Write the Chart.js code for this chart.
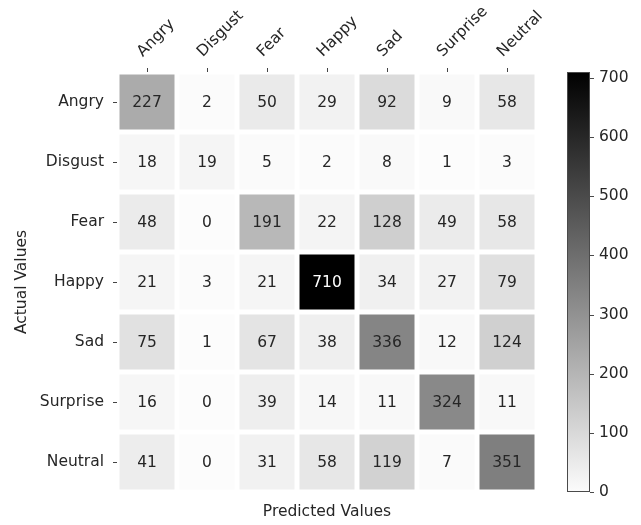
<!DOCTYPE html>
<html>
<head>
<meta charset="utf-8">
<script src="https://cdn.jsdelivr.net/npm/chart.js@4.4.1/dist/chart.umd.min.js"></script>
<style>
  html, body { margin: 0; padding: 0; background: #ffffff; }
  #wrap { width: 641px; height: 525px; }
</style>
</head>
<body>
<div id="wrap"><canvas id="cm" width="641" height="525"></canvas></div>
<script>
// Class labels (rows = actual, columns = predicted)
const classes = ['Angry', 'Disgust', 'Fear', 'Happy', 'Sad', 'Surprise', 'Neutral'];

// Confusion-matrix counts, one array per actual class
const angryRow    = [227,  2,  50,  29,  92,   9,  58];
const disgustRow  = [ 18, 19,   5,   2,   8,   1,   3];
const fearRow     = [ 48,  0, 191,  22, 128,  49,  58];
const happyRow    = [ 21,  3,  21, 710,  34,  27,  79];
const sadRow      = [ 75,  1,  67,  38, 336,  12, 124];
const surpriseRow = [ 16,  0,  39,  14,  11, 324,  11];
const neutralRow  = [ 41,  0,  31,  58, 119,   7, 351];

const matrixRows = [angryRow, disgustRow, fearRow, happyRow, sadRow, surpriseRow, neutralRow];

// Colour bar range and ticks
const colorMin = 0;
const colorMax = 710;
const colorTicks = [0, 100, 200, 300, 400, 500, 600, 700];

const FONT = 'DejaVu Sans';
const TEXT = '#262626';

// Reversed linear grey map: low counts light, high counts dark
function greyFor(v) {
  const t = Math.min(1, Math.max(0, (v - colorMin) / (colorMax - colorMin)));
  const g = Math.round(252 * (1 - t));
  return `rgb(${g},${g},${g})`;
}

const points = [];
const colors = [];
matrixRows.forEach((row, r) => {
  row.forEach((v, c) => {
    points.push({ x: classes[c], y: classes[r], v: v });
    colors.push(greyFor(v));
  });
});

function cellRadius(ctx) {
  const xs = ctx.chart.scales.x;
  if (!xs) return 0;
  return (xs.width / classes.length - 5) / Math.SQRT2;
}

// Writes each cell's count in its centre
const cellLabels = {
  id: 'cellLabels',
  afterDatasetsDraw(chart) {
    const ctx = chart.ctx;
    const meta = chart.getDatasetMeta(0);
    const thresh = (colorMax + colorMin) / 2;
    ctx.save();
    ctx.font = `15.5px "${FONT}"`;
    ctx.textAlign = 'center';
    ctx.textBaseline = 'middle';
    meta.data.forEach((el, i) => {
      const v = points[i].v;
      ctx.fillStyle = v > thresh ? '#ffffff' : TEXT;
      ctx.fillText(String(v), el.x, el.y + 1);
    });
    ctx.restore();
  }
};

// Gradient bar beside the colour-bar axis
const colorBar = {
  id: 'colorBar',
  afterDraw(chart) {
    const s = chart.scales.cb;
    const ctx = chart.ctx;
    const x0 = s.left + 30;
    const w = 23;
    const yTop = s.getPixelForValue(colorMax);
    const yBot = s.getPixelForValue(colorMin);
    const grad = ctx.createLinearGradient(0, yBot, 0, yTop);
    grad.addColorStop(0, greyFor(colorMin));
    grad.addColorStop(1, greyFor(colorMax));
    ctx.save();
    ctx.fillStyle = grad;
    ctx.fillRect(x0, yTop, w, yBot - yTop);
    ctx.strokeStyle = '#4a4a4a';
    ctx.lineWidth = 1;
    ctx.strokeRect(x0 + 0.5, yTop + 0.5, w - 1, yBot - yTop - 1);
    ctx.beginPath();
    colorTicks.forEach(t => {
      const y = Math.round(s.getPixelForValue(t)) + 0.5;
      ctx.moveTo(x0 + w, y);
      ctx.lineTo(x0 + w + 4, y);
    });
    ctx.stroke();
    ctx.restore();
  }
};

new Chart(document.getElementById('cm'), {
  type: 'scatter',
  data: {
    datasets: [{
      data: points,
      backgroundColor: colors,
      pointStyle: 'rect',
      borderWidth: 0,
      clip: false,
      pointRadius: cellRadius,
      pointHoverRadius: cellRadius
    }]
  },
  options: {
    responsive: false,
    animation: false,
    events: [],
    devicePixelRatio: 1,
    layout: { padding: 0, autoPadding: false },
    plugins: {
      legend: { display: false },
      tooltip: { enabled: false }
    },
    scales: {
      x: {
        type: 'category',
        labels: classes,
        position: 'top',
        offset: true,
        afterFit(s) { s.height = 72; s.paddingLeft = 0; s.paddingRight = 0; },
        grid: { display: true, drawOnChartArea: false, drawTicks: true, tickLength: 4, tickColor: '#444444', lineWidth: 1 },
        border: { display: false },
        ticks: {
          autoSkip: false,
          minRotation: 45,
          maxRotation: 45,
          padding: 7,
          labelOffset: 6,
          color: TEXT,
          font: { family: FONT, size: 15.5 }
        }
      },
      x2: {
        type: 'category',
        labels: classes,
        position: 'bottom',
        offset: true,
        afterFit(s) { s.height = 33; },
        grid: { display: false },
        border: { display: false },
        ticks: { display: false },
        title: {
          display: true,
          text: 'Predicted Values',
          color: TEXT,
          font: { family: FONT, size: 15.5 },
          padding: { top: 0, bottom: 4 }
        }
      },
      y: {
        type: 'category',
        labels: classes,
        position: 'left',
        offset: true,
        afterFit(s) { s.width = 117; s.paddingTop = 0; s.paddingBottom = 0; },
        grid: { display: true, drawOnChartArea: false, drawTicks: true, tickLength: 4, tickColor: '#444444', lineWidth: 1 },
        border: { display: false },
        ticks: {
          autoSkip: false,
          padding: 9,
          color: TEXT,
          font: { family: FONT, size: 15.5 }
        },
        title: {
          display: true,
          text: 'Actual Values',
          color: TEXT,
          font: { family: FONT, size: 15.5 },
          padding: { top: 13, bottom: 0 }
        }
      },
      cb: {
        type: 'linear',
        position: 'right',
        min: colorMin,
        max: colorMax,
        afterFit(s) { s.width = 104; s.paddingTop = 0; s.paddingBottom = 0; },
        afterBuildTicks(s) { s.ticks = colorTicks.map(v => ({ value: v })); },
        grid: { display: false, drawTicks: false },
        border: { display: false },
        ticks: {
          padding: 62,
          color: TEXT,
          font: { family: FONT, size: 15.5 }
        }
      }
    }
  },
  plugins: [cellLabels, colorBar]
});
</script>
</body>
</html>
